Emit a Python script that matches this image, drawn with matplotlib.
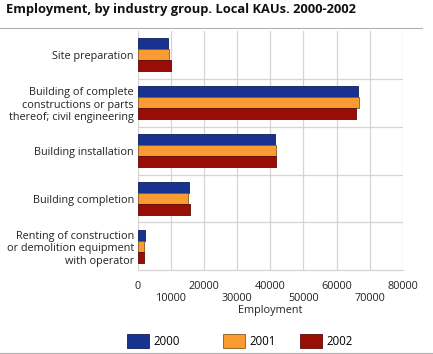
import matplotlib
matplotlib.use("Agg")
import matplotlib.pyplot as plt
import numpy as np

plt.rcParams['font.family'] = ['Open Sans', 'DejaVu Sans']

categories = ["Site preparation",
              "Building of complete\nconstructions or parts\nthereof; civil engineering",
              "Building installation",
              "Building completion",
              "Renting of construction\nor demolition equipment\nwith operator"]
years = ["2000", "2001", "2002"]
v2000 = [9100, 66600, 41500, 15400, 2100]
v2001 = [9500, 66800, 41800, 15200, 1900]
v2002 = [10000, 65800, 41800, 15700, 1800]
xticks = [0, 10000, 20000, 30000, 40000, 50000, 60000, 70000, 80000]
colors = ["#17338f", "#f99b31", "#980d06"]
edges = ["#0d1f5e", "#8a5a20", "#5a0a05"]

fig = plt.figure(figsize=(4.33, 3.54), dpi=100)
ax = fig.add_axes([138/433, 1-270.3/354, (402.7-138)/433, (270.3-31)/354])

y = np.arange(len(categories))
h = 0.23
bars = []
for i, (vals, c, ec) in enumerate(zip([v2000, v2001, v2002], colors, edges)):
    b = ax.barh(y + (i-1)*h, vals, height=h, color=c, edgecolor=ec, linewidth=0.6,
                label=years[i], zorder=3)
    bars.append(b)

ax.set_ylim(len(categories)-0.5, -0.5)
ax.set_xlim(0, 80000)
ax.set_yticks(y)
ax.set_yticklabels(categories, fontsize=7.8, color="#222222", linespacing=1.2)
ax.set_yticks(np.arange(0.5, len(categories)-0.5, 1), minor=True)
ax.tick_params(axis='y', which='both', length=0, pad=3)
ax.set_xticks(xticks)
ax.set_xticklabels([("\n" if k % 2 else "") + str(t) for k, t in enumerate(xticks)],
                   fontsize=7.8, color="#222222", linespacing=1.05)
ax.tick_params(axis='x', length=0, pad=8)
ax.grid(axis='x', which='major', color="#d4d4d4", linewidth=0.9, zorder=0)
ax.grid(axis='y', which='minor', color="#d4d4d4", linewidth=0.9, zorder=0)
for s in ['top', 'left', 'right']:
    ax.spines[s].set_visible(False)
ax.spines['bottom'].set_color("#d4d4d4")
ax.spines['bottom'].set_linewidth(0.9)
ax.set_xlabel("Employment", fontsize=7.8, color="#222222", labelpad=1)

fig.text(6/433, 1-10/354, "Employment, by industry group. Local KAUs. 2000-2002",
         fontsize=9.3, fontweight='bold', va='center', ha='left', color="#111111")
fig.add_artist(plt.Line2D([0, 422/433], [1-27.5/354, 1-27.5/354], color="#b0b0b0", linewidth=0.8))
fig.add_artist(plt.Line2D([0, 1], [1-352.5/354, 1-352.5/354], color="#b0b0b0", linewidth=0.8))

for b, lab, xl in zip(bars, years, [127, 223, 300]):
    fig.legend([b], [lab], loc='center left', bbox_to_anchor=(xl/433, 1-341/354),
               frameon=False, fontsize=8.3, handlelength=1.95, handleheight=1.6,
               handletextpad=0.35, borderpad=0, borderaxespad=0)

fig.savefig("out.png", dpi=100)
